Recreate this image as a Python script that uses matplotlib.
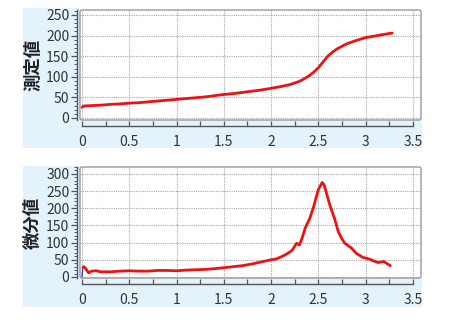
import matplotlib
matplotlib.use("Agg")
import matplotlib.pyplot as plt
from matplotlib.patches import Rectangle, FancyBboxPatch
from matplotlib.ticker import MultipleLocator

plt.rcParams['font.family'] = ['Noto Sans CJK JP', 'DejaVu Sans']

# ---- data ----
top_x = [0, 0.02, 0.1, 0.2, 0.3, 0.4, 0.5, 0.6, 0.7, 0.8, 0.9, 1.0, 1.1, 1.2, 1.3, 1.4,
         1.5, 1.6, 1.7, 1.8, 1.9, 2.0, 2.1, 2.2, 2.3, 2.35, 2.4, 2.45, 2.5, 2.55, 2.6,
         2.65, 2.7, 2.8, 2.9, 3.0, 3.1, 3.2, 3.28]
top_y = [26, 29, 30, 31, 33, 34, 36, 37, 39, 41, 43, 45, 47, 49, 51, 54,
         57, 59, 62, 65, 68, 72, 76, 81, 89, 95, 102, 111, 122, 136, 150,
         160, 168, 180, 188, 195, 199, 203, 206]

bot_x = [0.01, 0.02, 0.04, 0.07, 0.1, 0.15, 0.2, 0.3, 0.4, 0.5, 0.6, 0.7, 0.8, 0.9,
         1.0, 1.1, 1.2, 1.3, 1.4, 1.5, 1.6, 1.7, 1.8, 1.9, 2.0, 2.05, 2.11, 2.16, 2.22,
         2.27, 2.30, 2.33, 2.36, 2.41, 2.45, 2.48, 2.50, 2.54, 2.56, 2.58, 2.62, 2.67,
         2.71, 2.75, 2.78, 2.85, 2.90, 2.97, 3.04, 3.08, 3.13, 3.19, 3.23, 3.26]
bot_y = [28, 30, 24, 12, 17, 18, 15, 15, 17, 18, 17, 17, 19, 19,
         18, 20, 21, 22, 24, 27, 30, 33, 38, 44, 50, 52, 59, 66, 77,
         98, 93, 115, 142, 171, 205, 235, 254, 275, 268, 249, 210, 171,
         132, 110, 98, 84, 69, 57, 52, 47, 42, 45, 38, 33]
blue_x = [0, 0.008]
blue_y = [0, 28]

top_label = "測定値"
bot_label = "微分値"
x_ticks = [0, 0.5, 1, 1.5, 2, 2.5, 3, 3.5]
x_ticklabels = ["0", "0.5", "1", "1.5", "2", "2.5", "3", "3.5"]

# ---- figure ----
W, H = 457, 323
fig = plt.figure(figsize=(W / 100, H / 100), dpi=100)
fig.patch.set_facecolor('white')

BLUE_BG = '#e3f2fb'

def frect(x0, y0, x1, y1):
    return [x0 / W, 1 - y1 / H, (x1 - x0) / W, (y1 - y0) / H]

def bg(x0, y0, x1, y1):
    r = Rectangle((x0 / W, 1 - y1 / H), (x1 - x0) / W, (y1 - y0) / H,
                  transform=fig.transFigure, facecolor=BLUE_BG, edgecolor='none', zorder=-10)
    fig.patches.append(r)

# background panels (L-shaped)
bg(23, 8, 80, 148)
bg(23, 120, 422, 148)
bg(23, 166, 80, 307)
bg(23, 278, 422, 307)

def style(ax, ylim, ymajor, yminor, label, label_y):
    ax.set_zorder(2)
    ax.set_facecolor('white')
    ax.set_xlim(-0.021, 3.585)
    ax.set_ylim(*ylim)
    ax.spines['top'].set_visible(False)
    ax.spines['right'].set_visible(False)
    ax.spines['left'].set_position(('outward', 2.2))
    ax.spines['left'].set_color('#555555')
    ax.spines['left'].set_linewidth(1.0)
    ax.spines['bottom'].set_position(('outward', 4.5))
    ax.spines['bottom'].set_bounds(0, 3.5)
    ax.spines['bottom'].set_color('#555555')
    ax.spines['bottom'].set_linewidth(1.0)
    ax.set_xticks(x_ticks)
    ax.set_xticklabels(x_ticklabels)
    ax.xaxis.set_minor_locator(MultipleLocator(0.25))
    ax.yaxis.set_major_locator(MultipleLocator(ymajor))
    ax.yaxis.set_minor_locator(MultipleLocator(yminor))
    ax.tick_params(axis='x', which='both', direction='in', length=3.5, width=0.9,
                   color='#555555', pad=6.5, labelsize=10, labelcolor='#333333')
    ax.tick_params(axis='y', which='major', direction='out', length=4, width=0.9,
                   color='#555555', pad=1.5, labelsize=10, labelcolor='#333333')
    ax.tick_params(axis='y', which='minor', direction='out', length=2.2, width=0.7,
                   color='#555555')
    ax.grid(True, which='major', color='#a8a8a8', linestyle=(0, (1, 1)), linewidth=0.8)
    ax.set_axisbelow(True)
    # plot frame
    box = FancyBboxPatch((0, 0), 1, 1, boxstyle="round,pad=0,rounding_size=0.006",
                         transform=ax.transAxes, facecolor='none', edgecolor='#9a9a9a',
                         linewidth=1.0, clip_on=False, zorder=5, mutation_aspect=3)
    ax.add_patch(box)
    fig.text(33 / W, 1 - label_y / H, label, rotation=90, ha='center', va='center',
             fontsize=12.5, fontweight='bold', color='#222222', zorder=3)

ax1 = fig.add_axes(frect(80, 10, 421, 120))
style(ax1, (-5, 262), 50, 10, top_label, 65)
ax1.plot(top_x, top_y, color='#ee1111', linewidth=2.0, solid_capstyle='round', zorder=3)

ax2 = fig.add_axes(frect(80, 167, 421, 278))
style(ax2, (-3, 320), 50, 10, bot_label, 223)
ax2.plot(blue_x, blue_y, color='#3344cc', linewidth=1.0, zorder=3)
ax2.plot(bot_x, bot_y, color='#ee1111', linewidth=2.0, solid_capstyle='round', zorder=3)

fig.savefig('out.png', dpi=100)
